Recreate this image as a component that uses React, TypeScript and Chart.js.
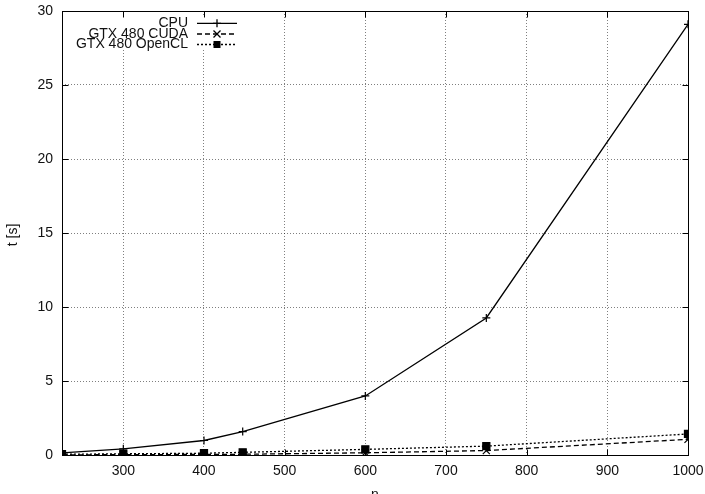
import React, { useEffect, useRef } from 'react';
import { Chart, registerables } from 'chart.js';

Chart.register(...registerables);

const sizes = [224, 300, 400, 448, 600, 750, 1000];
const cpuTimes = [0.15, 0.42, 0.98, 1.58, 3.99, 9.26, 29.1];
const cudaTimes = [0.01, 0.02, 0.04, 0.05, 0.15, 0.3, 1.06];
const openclTimes = [0.05, 0.08, 0.12, 0.18, 0.38, 0.6, 1.42];
const xTickValues = [300, 400, 500, 600, 700, 800, 900, 1000];
const yTickValues = [0, 5, 10, 15, 20, 25, 30];
const seriesNames = ['CPU', 'GTX 480 CUDA', 'GTX 480 OpenCL'];
const xTitle = 'n';
const yTitle = 't [s]';

const FONT = '"Liberation Sans", Arial, Helvetica, sans-serif';
const TEXT = '#111';

function drawMarker(ctx: CanvasRenderingContext2D, style: string, x: number, y: number) {
  ctx.beginPath();
  if (style === 'cross') {
    ctx.moveTo(x - 4, y); ctx.lineTo(x + 4, y);
    ctx.moveTo(x, y - 4); ctx.lineTo(x, y + 4);
    ctx.stroke();
  } else if (style === 'crossRot') {
    ctx.moveTo(x - 3.5, y - 3.5); ctx.lineTo(x + 3.5, y + 3.5);
    ctx.moveTo(x - 3.5, y + 3.5); ctx.lineTo(x + 3.5, y - 3.5);
    ctx.stroke();
  } else {
    ctx.fillRect(x - 3.5, y - 3.5, 7, 7);
  }
}

const framePlugin = {
  id: 'gnuframe',
  afterDraw(chart: any) {
    const { ctx, chartArea: a, scales } = chart;
    ctx.save();
    // legend background
    ctx.fillStyle = '#fff';
    ctx.fillRect(68, 17, 177, 33);
    // legend entries
    const rows = [23.3, 34, 44.5];
    ctx.font = `14px ${FONT}`;
    ctx.textAlign = 'right';
    ctx.textBaseline = 'middle';
    chart.data.datasets.forEach((ds: any, i: number) => {
      const y = rows[i];
      ctx.fillStyle = TEXT;
      ctx.fillText(ds.label, 188, y);
      ctx.strokeStyle = '#000';
      ctx.fillStyle = '#000';
      ctx.lineWidth = ds.borderWidth;
      ctx.setLineDash(ds.borderDash || []);
      ctx.beginPath();
      ctx.moveTo(197, y);
      ctx.lineTo(237, y);
      ctx.stroke();
      ctx.setLineDash([]);
      drawMarker(ctx, ds.pointStyle, 217, y);
    });
    // border
    ctx.strokeStyle = '#000';
    ctx.lineWidth = 1;
    ctx.setLineDash([]);
    const L = Math.round(a.left) + 0.5;
    const R = Math.round(a.right) + 0.5;
    const T = Math.round(a.top) + 0.5;
    const B = Math.round(a.bottom) + 0.5;
    ctx.strokeRect(L, T, R - L, B - T);
    // inward ticks
    const tl = 6;
    ctx.beginPath();
    xTickValues.forEach((v) => {
      const px = Math.round(scales.x.getPixelForValue(v)) + 0.5;
      ctx.moveTo(px, B); ctx.lineTo(px, B - tl);
      ctx.moveTo(px, T); ctx.lineTo(px, T + tl);
    });
    yTickValues.forEach((v) => {
      const py = Math.round(scales.y.getPixelForValue(v)) + 0.5;
      ctx.moveTo(L, py); ctx.lineTo(L + tl, py);
      ctx.moveTo(R, py); ctx.lineTo(R - tl, py);
    });
    ctx.stroke();
    // axis titles
    ctx.fillStyle = TEXT;
    ctx.font = `14px ${FONT}`;
    ctx.textAlign = 'center';
    ctx.textBaseline = 'alphabetic';
    ctx.fillText(xTitle, (a.left + a.right) / 2, 499);
    ctx.save();
    ctx.translate(13.5, 235);
    ctx.rotate(-Math.PI / 2);
    ctx.textBaseline = 'middle';
    ctx.fillText(yTitle, 0, 0);
    ctx.restore();
    ctx.restore();
  },
};

export default function App() {
  const ref = useRef<HTMLCanvasElement>(null);
  useEffect(() => {
    document.body.style.margin = '0';
    const canvas = ref.current!;
    const mk = (vals: number[]) => sizes.map((x, i) => ({ x, y: vals[i] }));
    const common = {
      borderColor: '#000',
      backgroundColor: '#000',
      pointBorderColor: '#000',
      pointBackgroundColor: '#000',
      borderWidth: 1.3,
      pointBorderWidth: 1.2,
      fill: false,
      tension: 0,
      showLine: true,
    };
    const chart = new Chart(canvas, {
      type: 'scatter',
      data: {
        datasets: [
          { ...common, label: seriesNames[0], data: mk(cpuTimes), pointStyle: 'cross', pointRadius: 4, borderDash: [] },
          { ...common, label: seriesNames[1], data: mk(cudaTimes), pointStyle: 'crossRot', pointRadius: 5, borderDash: [5, 3] },
          { ...common, label: seriesNames[2], data: mk(openclTimes), pointStyle: 'rect', pointRadius: 5, borderDash: [2, 2] },
        ] as any,
      },
      options: {
        animation: false,
        responsive: false,
        devicePixelRatio: 1,
        layout: { padding: { top: 11, right: 17, left: 0, bottom: 0 } },
        plugins: { legend: { display: false }, tooltip: { enabled: false } },
        scales: {
          x: {
            type: 'linear',
            min: 224,
            max: 1000,
            afterBuildTicks: (s: any) => { s.ticks = xTickValues.map((v) => ({ value: v })); },
            afterFit: (s: any) => { s.height = 55; s.paddingLeft = 0; s.paddingRight = 0; },
            ticks: { color: TEXT, font: { family: FONT, size: 14 }, padding: 8, maxRotation: 0, autoSkip: false, callback: (v: any) => String(v) },
            grid: { color: 'rgba(0,0,0,0.5)', lineWidth: 1, drawTicks: false },
            border: { display: false, dash: [1, 2] },
          },
          y: {
            type: 'linear',
            min: 0,
            max: 30,
            afterBuildTicks: (s: any) => { s.ticks = yTickValues.map((v) => ({ value: v })); },
            afterFit: (s: any) => { s.width = 62; s.paddingTop = 0; s.paddingBottom = 0; },
            ticks: { color: TEXT, font: { family: FONT, size: 14 }, padding: 9, autoSkip: false, callback: (v: any) => String(v) },
            grid: { color: 'rgba(0,0,0,0.5)', lineWidth: 1, drawTicks: false },
            border: { display: false, dash: [1, 2] },
          },
        },
      } as any,
      plugins: [framePlugin],
    });
    return () => chart.destroy();
  }, []);
  return (
    <div style={{ width: 705, height: 494, overflow: 'hidden', background: '#fff' }}>
      <canvas ref={ref} width={705} height={510} style={{ display: 'block', width: 705, height: 510 }} />
    </div>
  );
}
